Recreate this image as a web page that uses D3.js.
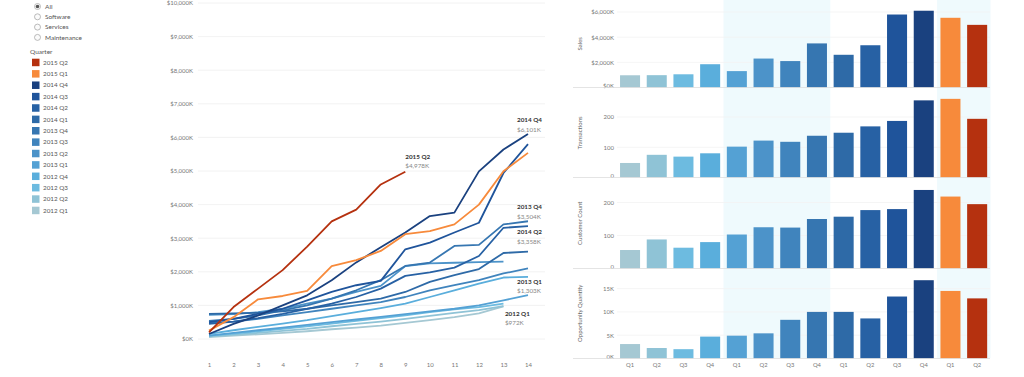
<!DOCTYPE html>
<html>
<head>
<meta charset="utf-8">
<script src="https://cdn.jsdelivr.net/npm/d3@7"></script>
<style>
  body { margin: 0; background: #fff; }
  svg { display: block; font-family: Lato, "Open Sans", sans-serif; }
</style>
</head>
<body>
<div id="chart"></div>
<script>
const W = 1024, H = 377;

// ---- data ----
const filters = ['All', 'Software', 'Services', 'Maintenance'];
const quarters = ['2012 Q1', '2012 Q2', '2012 Q3', '2012 Q4', '2013 Q1', '2013 Q2', '2013 Q3',
                  '2013 Q4', '2014 Q1', '2014 Q2', '2014 Q3', '2014 Q4', '2015 Q1', '2015 Q2'];
const quarterColors = ['#a5c8d3', '#8fc3d6', '#6dbbe0', '#5aaedc', '#54a1d4', '#4c93c9', '#4084bd',
                       '#3676b1', '#2e6aa7', '#2761a4', '#1f549b', '#1a417f', '#f78a3b', '#b5310f'];
const weekTicks = [1, 2, 3, 4, 5, 6, 7, 8, 9, 10, 11, 12, 13, 14];
const salesTicksLine = [0, 1000, 2000, 3000, 4000, 5000, 6000, 7000, 8000, 9000, 10000];

// cumulative sales ($K) by week of quarter
const wk2012Q1 = [60, 100, 140, 180, 230, 290, 340, 400, 480, 560, 650, 760, 972];
const wk2012Q2 = [80, 130, 180, 240, 300, 380, 450, 520, 600, 690, 780, 860, 980];
const wk2012Q3 = [100, 160, 230, 300, 380, 460, 540, 620, 700, 800, 880, 950, 1050];
const wk2012Q4 = [150, 260, 360, 460, 560, 680, 800, 920, 1050, 1250, 1450, 1650, 1830, 1850];
const wk2013Q1 = [100, 180, 260, 340, 420, 500, 580, 660, 740, 820, 900, 1000, 1150, 1303];
const wk2013Q2 = [720, 740, 800, 900, 1050, 1200, 1400, 1580, 2170, 2250, 2270, 2290, 2300];
const wk2013Q3 = [480, 520, 600, 700, 800, 900, 1000, 1100, 1250, 1450, 1600, 1750, 1950, 2100];
const wk2013Q4 = [540, 600, 700, 850, 1000, 1200, 1450, 1750, 2175, 2275, 2770, 2800, 3410, 3504];
const wk2014Q1 = [750, 760, 780, 820, 900, 1000, 1100, 1200, 1400, 1700, 1900, 2080, 2560, 2600];
const wk2014Q2 = [450, 520, 620, 750, 900, 1050, 1250, 1500, 1880, 1980, 2125, 2470, 3310, 3358];
const wk2014Q3 = [500, 600, 750, 900, 1150, 1400, 1600, 1730, 2670, 2870, 3170, 3460, 4940, 5800];
const wk2014Q4 = [150, 450, 700, 1000, 1300, 1750, 2280, 2730, 3170, 3660, 3760, 4990, 5640, 6101];
const wk2015Q1 = [250, 650, 1180, 1280, 1430, 2170, 2350, 2620, 3120, 3210, 3410, 4000, 4990, 5540];
const wk2015Q2 = [200, 950, 1500, 2050, 2750, 3500, 3850, 4600, 4978];
const weekly = [wk2012Q1, wk2012Q2, wk2012Q3, wk2012Q4, wk2013Q1, wk2013Q2, wk2013Q3,
                wk2013Q4, wk2014Q1, wk2014Q2, wk2014Q3, wk2014Q4, wk2015Q1, wk2015Q2];

// quarter totals for the bar panels
const sales        = [972, 980, 1050, 1850, 1303, 2300, 2100, 3504, 2600, 3358, 5800, 6101, 5540, 4978];
const transactions = [48, 75, 69, 80, 102, 122, 118, 138, 148, 169, 187, 255, 260, 194];
const customers    = [56, 88, 63, 80, 103, 125, 124, 150, 157, 177, 180, 238, 218, 195];
const opportunity  = [3100, 2250, 2000, 4700, 4900, 5400, 8300, 10000, 10000, 8600, 13300, 16800, 14500, 12900];

// end-of-line annotations
const labelled = ['2015 Q2', '2014 Q4', '2013 Q4', '2014 Q2', '2013 Q1', '2012 Q1'];
const labelOffsets = [[0, -15], [-11, -14], [-11, -14], [-11, 6], [-11, -13.5], [1.5, 7]];

// ---- svg ----
const svg = d3.select('#chart').append('svg')
  .attr('width', W).attr('height', H)
  .attr('viewBox', `0 0 ${W} ${H}`);

const fmtK = v => '$' + d3.format(',')(v) + 'K';

// ---- filters + legend ----
const legend = svg.append('g');
filters.forEach((f, i) => {
  const y = 6.5 + i * 10.3;
  legend.append('circle').attr('cx', 37.5).attr('cy', y).attr('r', 3)
    .attr('fill', i === 0 ? '#fff' : '#fbfbfb').attr('stroke', '#aaa').attr('stroke-width', 0.8);
  if (i === 0) legend.append('circle').attr('cx', 37.5).attr('cy', y).attr('r', 1.8).attr('fill', '#555');
  legend.append('text').attr('x', 45).attr('y', y).attr('dy', '0.35em')
    .attr('font-size', 6.5).attr('fill', '#555').text(f);
});
legend.append('text').attr('x', 30).attr('y', 52).attr('dy', '0.35em')
  .attr('font-size', 6.5).attr('fill', '#555').text('Quarter');

const legendOrder = quarters.slice().reverse();
const legendY = d3.scalePoint().domain(legendOrder).range([62.5, 210.5]);
legendOrder.forEach(q => {
  const c = quarterColors[quarters.indexOf(q)];
  legend.append('rect').attr('x', 32).attr('y', legendY(q) - 3.8)
    .attr('width', 7.5).attr('height', 7.5).attr('fill', c);
  legend.append('text').attr('x', 43).attr('y', legendY(q)).attr('dy', '0.35em')
    .attr('font-size', 6.3).attr('fill', '#555').text(q);
});

// ---- line chart ----
const xLine = d3.scaleLinear().domain([1, 14]).range([209, 528]);
const yLine = d3.scaleLinear().domain([0, 10000]).range([339, 3]);

const lc = svg.append('g');
lc.append('g')
  .selectAll('line').data(salesTicksLine).enter().append('line')
  .attr('x1', 198).attr('x2', 545)
  .attr('y1', d => yLine(d)).attr('y2', d => yLine(d))
  .attr('stroke', '#efefef').attr('stroke-width', 0.8);

const yAxisL = lc.append('g')
  .attr('transform', 'translate(194,0)')
  .call(d3.axisLeft(yLine).tickValues(salesTicksLine).tickFormat(fmtK).tickSize(0).tickPadding(1));
yAxisL.select('.domain').remove();
yAxisL.selectAll('text').attr('font-size', 6).attr('fill', '#777').attr('font-family', 'Lato, sans-serif');

const xAxisL = lc.append('g')
  .attr('transform', 'translate(0,358)')
  .call(d3.axisBottom(xLine).tickValues(weekTicks).tickFormat(d3.format('d')).tickSize(0).tickPadding(5));
xAxisL.select('.domain').remove();
xAxisL.selectAll('text').attr('font-size', 6).attr('fill', '#777').attr('font-family', 'Lato, sans-serif');

const line = d3.line().x((d, i) => xLine(weekTicks[i])).y(d => yLine(d));
lc.append('g').selectAll('path').data(weekly).enter().append('path')
  .attr('d', d => line(d))
  .attr('fill', 'none')
  .attr('stroke', (d, i) => quarterColors[i])
  .attr('stroke-width', 1.8)
  .attr('stroke-linejoin', 'round');

labelled.forEach((q, k) => {
  const i = quarters.indexOf(q);
  const vals = weekly[i];
  const x = xLine(weekTicks[vals.length - 1]) + labelOffsets[k][0];
  const y = yLine(vals[vals.length - 1]) + labelOffsets[k][1];
  lc.append('text').attr('x', x).attr('y', y).attr('dy', '0.35em')
    .attr('font-size', 6.3).attr('font-weight', 'bold').attr('fill', '#333').text(q);
  lc.append('text').attr('x', x).attr('y', y + 9.5).attr('dy', '0.35em')
    .attr('font-size', 6.3).attr('fill', '#888').text(fmtK(vals[vals.length - 1]));
});

// ---- bar panels ----
const xBar = d3.scaleBand().domain(quarters).range([616.7, 990.5]).paddingInner(0.25).paddingOuter(0.125);
const half = xBar.step() * xBar.paddingInner() / 2;

const bc = svg.append('g');
// year banding (2013 and 2015 shaded)
[['2013 Q1', '2013 Q4'], ['2015 Q1', '2015 Q2']].forEach(([a, b]) => {
  bc.append('rect')
    .attr('x', xBar(a) - half)
    .attr('width', xBar(b) + xBar.bandwidth() + half - xBar(a) + half)
    .attr('y', 0).attr('height', 358)
    .attr('fill', '#effafd');
});

const panels = [
  { name: 'Sales', values: sales, ticks: [0, 2000, 4000, 6000], fmt: fmtK, domain: [0, 6000], range: [87.5, 12] },
  { name: 'Transactions', values: transactions, ticks: [0, 100, 200], fmt: d3.format('d'), domain: [0, 200], range: [177.5, 117] },
  { name: 'Customer Count', values: customers, ticks: [0, 100, 200], fmt: d3.format('d'), domain: [0, 200], range: [268.5, 202.5] },
  { name: 'Opportunity Quantity', values: opportunity, ticks: [0, 5000, 10000, 15000], fmt: v => (v / 1000) + 'K', domain: [0, 15000], range: [358.5, 288.6] }
];
const panelTop = [0, 88, 178, 268];

panels.forEach((p, k) => {
  const y = d3.scaleLinear().domain(p.domain).range(p.range);
  const g = bc.append('g');
  g.selectAll('line.grid').data(p.ticks.slice(1)).enter().append('line')
    .attr('class', 'grid')
    .attr('x1', 617).attr('x2', 990)
    .attr('y1', d => y(d)).attr('y2', d => y(d))
    .attr('stroke', '#f3f3f3').attr('stroke-width', 0.8);

  const ax = g.append('g').attr('transform', 'translate(614,0)')
    .call(d3.axisLeft(y).tickValues(p.ticks).tickFormat(p.fmt).tickSize(0).tickPadding(0));
  ax.select('.domain').remove();
  ax.selectAll('text').attr('font-size', 6).attr('fill', '#777').attr('font-family', 'Lato, sans-serif');
  ax.selectAll('.tick').filter(d => d === 0).select('text').attr('dy', '-0.05em');

  g.selectAll('rect').data(p.values).enter().append('rect')
    .attr('x', (d, i) => xBar(quarters[i]))
    .attr('width', xBar.bandwidth())
    .attr('y', d => y(d))
    .attr('height', d => y(0) - y(d))
    .attr('fill', (d, i) => quarterColors[i]);

  g.append('line')
    .attr('x1', 573).attr('x2', 990)
    .attr('y1', p.range[0]).attr('y2', p.range[0])
    .attr('stroke', '#ddd').attr('stroke-width', 0.8);

  const cy = (panelTop[k] + p.range[0]) / 2;
  g.append('text')
    .attr('transform', `translate(580,${cy}) rotate(-90)`)
    .attr('text-anchor', 'middle').attr('dy', '0.35em')
    .attr('font-size', 6).attr('fill', '#666').text(p.name);
});

const xAxisB = bc.append('g').attr('transform', 'translate(0,359)')
  .call(d3.axisBottom(xBar).tickFormat(q => q.split(' ')[1]).tickSize(0).tickPadding(4));
xAxisB.select('.domain').remove();
xAxisB.selectAll('text').attr('font-size', 5.8).attr('fill', '#777').attr('font-family', 'Lato, sans-serif');
</script>
</body>
</html>
